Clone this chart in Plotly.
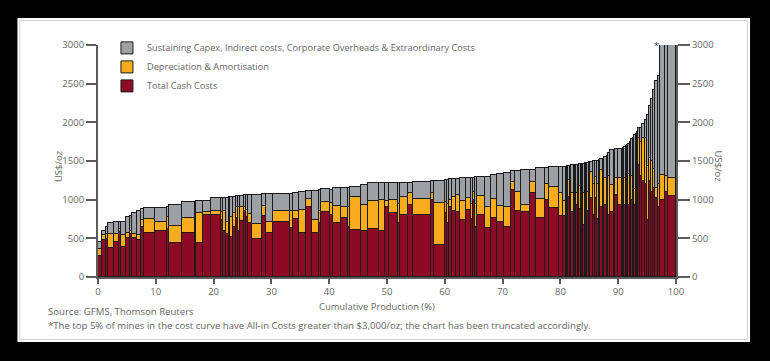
import numpy as np
import plotly.graph_objects as go

# Share of cumulative production (%) for each mine, sorted by all-in cost
widths = [
    0.7, 0.6, 0.5, 0.9, 0.9, 0.4, 0.9, 0.6, 0.4, 0.8, 0.8, 0.5, 1.8, 2.1, 0.4, 2.3, 2.1, 0.3, 1.2, 1.4,
    1.7, 0.4, 0.4, 0.5, 0.3, 0.5, 0.4, 0.5, 0.3, 0.6, 0.4, 0.3, 0.7, 1.7, 0.7, 1.3, 2.9, 0.6, 1.0, 1.1, 1.1, 1.2, 0.4, 1.6,
    0.5, 1.4, 1.1, 0.4, 1.9, 1.2, 2.0, 0.9, 0.8, 1.5, 0.3, 1.4, 0.9, 3.1, 0.5, 1.9,
    0.4, 0.4, 0.5, 0.6, 0.8, 0.9, 0.9, 0.4, 0.4, 0.3, 1.4, 1.0, 1.1, 1.1, 1.2, 0.8, 1.0, 1.6, 0.9, 1.7, 0.6, 1.7, 0.7,
    0.5, 0.2, 0.2, 0.4, 0.2, 0.4, 0.2, 0.2, 0.4, 0.2, 0.2, 0.2, 0.2, 0.3, 0.2, 0.2, 0.4,
    0.2, 0.5, 0.2, 0.5, 0.2, 0.2, 0.6, 0.2, 0.5, 0.2, 0.2, 0.7, 0.2, 0.6, 0.6, 0.2, 0.2, 0.3, 0.2, 0.2,
    0.3, 0.2, 0.3, 0.2, 0.3, 0.2, 0.3, 0.3, 0.4, 0.4, 0.4, 0.3, 0.4, 0.3, 0.4, 0.4, 0.4, 0.9, 0.5, 1.4,
]
# Total cash costs (US$/oz)
cash_costs = [
    271, 478, 490, 380, 453, 586, 384, 504, 560, 500, 478, 650, 573, 595, 620, 444, 565, 600, 444, 802,
    802, 737, 600, 560, 700, 520, 650, 760, 600, 720, 850, 780, 700, 491, 789, 565, 707, 629, 746, 565, 909, 565, 700, 845,
    802, 694, 760, 650, 608, 600, 617, 600, 909, 823, 700, 802, 931, 802, 1000, 414,
    823, 700, 900, 850, 845, 737, 866, 750, 995, 650, 802, 629, 759, 715, 650, 1125, 853, 845, 1082, 759, 1000, 888, 789,
    789, 700, 900, 1038, 800, 845, 750, 950, 931, 600, 880, 700, 1000, 672, 850, 750, 850,
    900, 1017, 800, 1017, 750, 900, 909, 700, 930, 1100, 800, 845, 700, 1064, 935, 1000, 750, 935, 800, 1100,
    935, 700, 1000, 1200, 935, 1100, 1200, 1452, 1300, 1237, 1200, 741, 1237, 1100, 1150, 1021, 900, 1000, 1100, 1043,
]
# Depreciation & amortisation (US$/oz)
depreciation = [
    91, 61, 60, 176, 103, 30, 159, 60, 40, 56, 60, 90, 177, 112, 150, 219, 194, 100, 387, 43,
    56, 100, 250, 150, 100, 260, 180, 150, 300, 190, 60, 90, 110, 190, 130, 142, 146, 220, 110, 300, 100, 172, 150, 129,
    150, 220, 150, 250, 430, 331, 370, 400, 80, 170, 250, 228, 151, 202, 80, 539,
    150, 250, 100, 180, 220, 250, 160, 200, 100, 300, 250, 280, 250, 200, 259, 100, 240, 86, 150, 245, 200, 280, 300,
    200, 300, 150, 212, 300, 237, 400, 200, 151, 500, 300, 400, 200, 410, 300, 350, 250,
    200, 346, 400, 280, 450, 300, 474, 600, 350, 300, 500, 345, 600, 216, 345, 300, 500, 345, 700, 200,
    400, 800, 300, 300, 200, 600, 400, 345, 450, 560, 600, 700, 300, 400, 250, 129, 300, 323, 200, 237,
]
# Sustaining capex, indirect costs, corporate overheads & extraordinary costs (US$/oz)
sustaining = [
    94, 56, 100, 138, 159, 99, 172, 207, 190, 276, 315, 135, 138, 181, 130, 268, 207, 270, 152, 138,
    159, 180, 170, 315, 230, 255, 210, 135, 150, 140, 145, 185, 250, 379, 154, 366, 220, 230, 226, 230, 107, 379, 270, 160,
    173, 233, 237, 250, 130, 259, 225, 212, 223, 219, 265, 190, 140, 229, 155, 292,
    282, 310, 263, 235, 205, 289, 255, 335, 190, 337, 237, 390, 310, 415, 440, 150, 282, 449, 158, 401, 205, 250, 331,
    436, 428, 380, 185, 340, 360, 295, 297, 368, 352, 275, 358, 260, 385, 320, 375, 380,
    385, 127, 295, 203, 305, 310, 137, 230, 270, 170, 300, 452, 345, 375, 375, 360, 420, 400, 200, 411,
    390, 250, 480, 300, 700, 150, 279, 130, 180, 180, 234, 650, 670, 800, 1022, 1380, 1400, 1677, 1700, 1720,
]

x_ticks = [0, 10, 20, 30, 40, 50, 60, 70, 80, 90, 100]
y_ticks = [0, 500, 1000, 1500, 2000, 2500, 3000]

series_names = [
    "Total Cash Costs",
    "Depreciation & Amortisation",
    "Sustaining Capex, Indirect costs, Corporate Overheads & Extraordinary Costs",
]

w = np.array(widths, dtype=float)
starts = np.concatenate([[0.0], np.cumsum(w)[:-1]])
centers = starts + w / 2
totals = np.array(cash_costs) + np.array(depreciation) + np.array(sustaining)

RED = "#8E0B25"
ORANGE = "#F7AC1E"
GREY = "#9DA1A6"
OUTLINE = "#1b1b1b"
TXT = "#666666"
FONT = "Open Sans"

fig = go.Figure()
for name, vals, col, rank in zip(series_names, [cash_costs, depreciation, sustaining],
                                 [RED, ORANGE, GREY], [3, 2, 1]):
    fig.add_trace(go.Bar(
        x=centers, y=vals, width=w, name=name, legendrank=rank,
        marker=dict(color=col, line=dict(color=OUTLINE, width=1)),
        hoverinfo="skip",
    ))

# invisible trace so the right-hand axis is drawn
fig.add_trace(go.Scatter(x=centers, y=totals, mode="none", yaxis="y2",
                         showlegend=False, hoverinfo="skip"))

axis_common = dict(
    showgrid=False, zeroline=False, showline=True, linecolor="#5c5c5c", linewidth=2,
    ticks="outside", tickcolor="#5c5c5c", tickwidth=2,
    tickfont=dict(family=FONT, size=9.5, color=TXT),
)

fig.update_layout(
    width=770, height=361,
    margin=dict(l=98, r=94, t=45, b=84),
    paper_bgcolor="black", plot_bgcolor="rgba(0,0,0,0)",
    barmode="stack", bargap=0,
    showlegend=True,
    legend=dict(
        x=0.0155, y=1.05, xanchor="left", yanchor="top",
        traceorder="normal",
        font=dict(family=FONT, size=9.2, color=TXT),
        bgcolor="rgba(0,0,0,0)", itemclick=False,
    ),
    xaxis=dict(range=[0, 100], tickvals=x_ticks, ticklen=5, **axis_common),
    yaxis=dict(range=[0, 3000], tickvals=y_ticks, ticklen=10, **axis_common),
    yaxis2=dict(range=[0, 3000], tickvals=y_ticks, ticklen=12, overlaying="y",
                side="right", **axis_common),
    shapes=[
        dict(type="rect", xref="paper", yref="paper", x0=-0.1394, x1=1.1281, y0=-0.2802, y1=1.1164,
             fillcolor="white", line=dict(width=0), layer="below"),
        dict(type="rect", xref="paper", yref="paper", x0=-0.1351, x1=1.1238, y0=-0.2694, y1=1.1056,
             fillcolor="rgba(0,0,0,0)", line=dict(color="#d0d0d0", width=1), layer="below"),
    ],
    annotations=[
        dict(text="Cumulative Production (%)", xref="paper", yref="paper", x=0.482, y=-0.125,
             xanchor="center", yanchor="middle", showarrow=False,
             font=dict(family=FONT, size=9.4, color=TXT)),
        dict(text="US$/oz", xref="paper", yref="paper", x=-0.084, y=0.478, textangle=-90,
             showarrow=False, font=dict(family=FONT, size=9.5, color=TXT)),
        dict(text="US$/oz", xref="paper", yref="paper", x=1.0883, y=0.478, textangle=90,
             showarrow=False, font=dict(family=FONT, size=9.5, color=TXT)),
        dict(text="Source: GFMS, Thomson Reuters", xref="paper", yref="paper",
             x=-0.0892, y=-0.149, xanchor="left", yanchor="middle", showarrow=False,
             font=dict(family=FONT, size=9.6, color=TXT)),
        dict(text="*The top 5% of mines in the cost curve have All-in Costs greater than $3,000/oz; "
                  "the chart has been truncated accordingly.",
             xref="paper", yref="paper", x=-0.0892, y=-0.207, xanchor="left", yanchor="middle",
             showarrow=False, font=dict(family=FONT, size=9.6, color=TXT)),
        dict(text="*", xref="x", yref="y", x=96.6, y=3000, showarrow=False, yanchor="middle",
             font=dict(family=FONT, size=9, color="#333")),
    ],
)

fig.write_html(
    "out.html",
    config={"displayModeBar": False},
    post_script="document.body.style.margin='0';document.body.style.background='black';",
)
